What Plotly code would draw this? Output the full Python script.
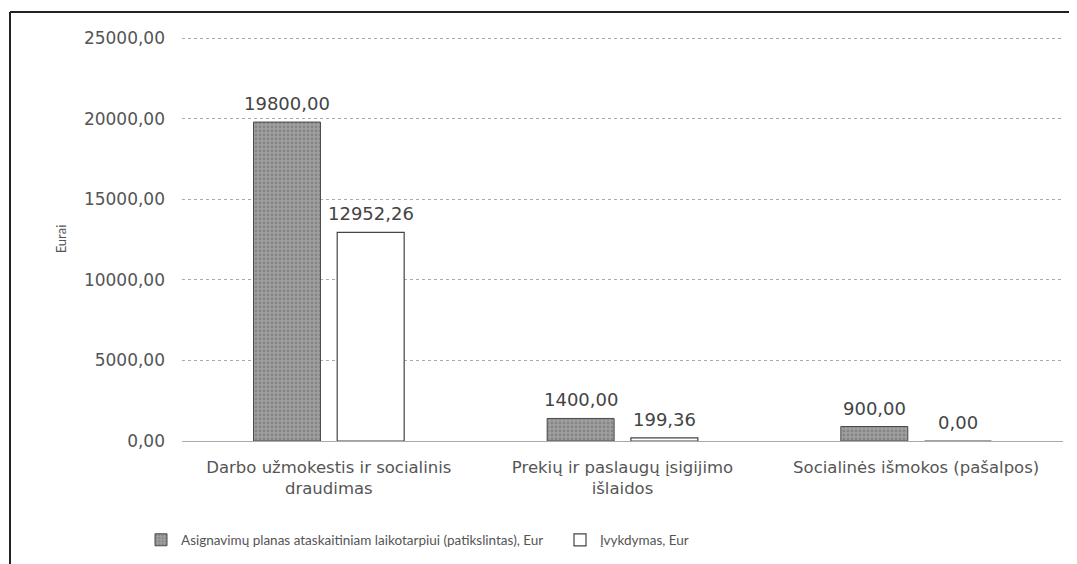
import plotly.graph_objects as go

categories = ["Darbo užmokestis ir socialinis<br>draudimas",
              "Prekių ir paslaugų įsigijimo<br>išlaidos",
              "Socialinės išmokos (pašalpos)"]
plan_values = [19800.00, 1400.00, 900.00]
actual_values = [12952.26, 199.36, 0.00]
series_names = ["Asignavimų planas ataskaitiniam laikotarpiui (patikslintas), Eur",
                "Įvykdymas, Eur"]
y_ticks = [0, 5000, 10000, 15000, 20000, 25000]

FONT = "DejaVu Sans, sans-serif"
LFONT = "Lato, sans-serif"
TXT = "#555555"
OFF = 8  # page offset of the figure in the browser

fig = go.Figure()
fig.add_trace(go.Bar(
    x=categories, y=plan_values, name=series_names[0],
    marker=dict(color="#8f8f8f", line=dict(color="#4a4a4a", width=1),
                pattern=dict(shape=".", fgcolor="#6a6a6a", bgcolor="#a0a0a0", size=4, solidity=0.4)),
))
fig.add_trace(go.Bar(
    x=categories, y=actual_values, name=series_names[1],
    marker=dict(color="#ffffff", line=dict(color="#444444", width=1.2)),
))

L, R, T, B = 174, 22, 37 - OFF, 564 - (441 - OFF)
W = 1077 - L - R
H = 564 - T - B
BARGAP, GROUPGAP = 0.43, 0.2
slot = W / len(categories) * (1 - BARGAP) / 2

annotations = []
for vals, sign in ((plan_values, -1), (actual_values, 1)):
    for c, v in zip(categories, vals):
        annotations.append(dict(
            x=c, y=v, text=f"{v:.2f}".replace(".", ","), showarrow=False,
            xref="x", yref="y", xshift=sign * slot / 2, yanchor="bottom", yshift=6,
            font=dict(size=18, color="#444444", family=FONT)))

fig.update_layout(
    width=1077, height=564,
    margin=dict(l=L, r=R, t=T, b=B, autoexpand=False),
    paper_bgcolor="white", plot_bgcolor="white",
    separators=", ",
    barmode="group", bargap=BARGAP, bargroupgap=GROUPGAP,
    font=dict(family=FONT, size=14, color=TXT),
    showlegend=True,
    annotations=annotations,
    legend=dict(orientation="h", x=(141 - OFF - L) / W, y=-99 / H, xanchor="left", yanchor="middle",
                font=dict(size=13.5, color=TXT, family=LFONT), entrywidth=374,
                entrywidthmode="pixels", traceorder="normal"),
    yaxis=dict(range=[0, 25080], tickvals=y_ticks, tickformat=".2f",
               showgrid=True, gridcolor="#aaaaaa", griddash="dot", gridwidth=1,
               zeroline=False, showline=False, ticks="", automargin=False,
               ticklabelstandoff=16,
               tickfont=dict(size=17, color=TXT, family=FONT),
               title=dict(text="Eurai", standoff=14, font=dict(size=13, color=TXT, family=LFONT))),
    xaxis=dict(showline=True, linecolor="#aaaaaa", linewidth=1, ticks="", automargin=False,
               tickfont=dict(size=16.5, color=TXT, family=FONT), ticklabelstandoff=11),
    shapes=[
        dict(type="line", xref="paper", yref="paper",
             x0=(10 - OFF - L) / W, x1=(10 - OFF - L) / W, y0=-B / H, y1=(T - (12 - OFF) + H) / H,
             line=dict(color="#222222", width=2)),
        dict(type="line", xref="paper", yref="paper",
             x0=(10 - OFF - L) / W, x1=(1077 - L) / W, y0=(T - (12 - OFF) + H) / H,
             y1=(T - (12 - OFF) + H) / H,
             line=dict(color="#222222", width=2)),
    ],
)

fig.write_html("out.html")
